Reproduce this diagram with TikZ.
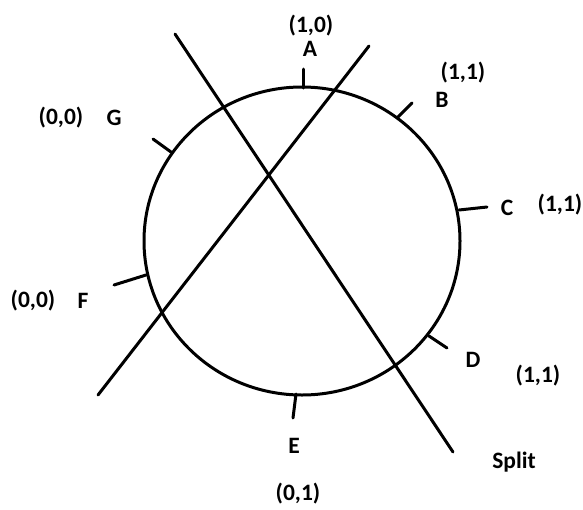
\documentclass[tikz,border=0pt]{standalone}
\usepackage{fontspec}
\setmainfont{Carlito}
\begin{document}
\begin{tikzpicture}[x=1pt,y=-1pt,
  lbl/.style={font=\bfseries\fontsize{23.5}{25}\selectfont, inner sep=0pt, anchor=center},
  stroke/.style={line width=3pt, line cap=round}]
\useasboundingbox (0,0) rectangle (583,509);
% circle
\draw[stroke] (302,241) ellipse [x radius=158, y radius=154];
% split lines
\coordinate (l1a) at (175,34);
\coordinate (l1b) at (453,452);
\coordinate (l2a) at (369,46);
\coordinate (l2b) at (98,395);
\draw[stroke] (l1a) -- (l1b);
\draw[stroke] (l2a) -- (l2b);
% ticks
\draw[stroke] (303,88) -- (303,69);
\draw[stroke] (398,117) -- (412,103);
\draw[stroke] (459,210) -- (487,207);
\draw[stroke] (429,336) -- (447,348);
\draw[stroke] (296,394) -- (293,418);
\draw[stroke] (146,275) -- (114,285);
\draw[stroke] (171,152) -- (153,139);
% labels
\node[lbl] (A) at (310,48.5) {A};
\node[lbl] (pA) at (311,25.5) {(1,0)};
\node[lbl] (B) at (442,100) {B};
\node[lbl] (pB) at (463,73) {(1,1)};
\node[lbl] (C) at (507,208) {C};
\node[lbl] (pC) at (560,205) {(1,1)};
\node[lbl] (D) at (473,360) {D};
\node[lbl] (pD) at (538,376) {(1,1)};
\node[lbl] (E) at (294,446) {E};
\node[lbl] (pE) at (298,494) {(0,1)};
\node[lbl] (F) at (83,301) {F};
\node[lbl] (pF) at (33,301) {(0,0)};
\node[lbl] (G) at (114,118) {G};
\node[lbl] (pG) at (61,118) {(0,0)};
\node[lbl] (split) at (514,462) {Split};
\end{tikzpicture}
\end{document}
